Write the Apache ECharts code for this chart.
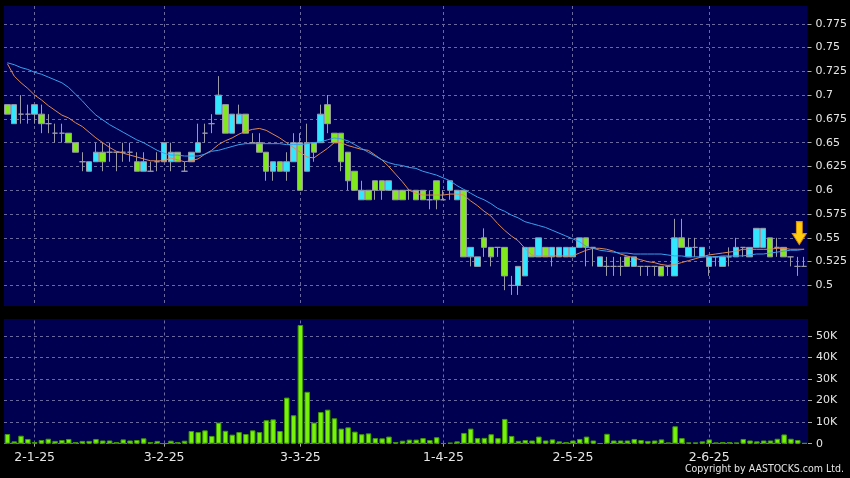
<!DOCTYPE html>
<html><head><meta charset="utf-8">
<script src="https://cdn.jsdelivr.net/npm/echarts@6/dist/echarts.min.js"></script>
<style>html,body{margin:0;padding:0;background:#000;}#c{width:850px;height:478px;}</style>
</head><body><div id="c"></div>
<script>
// trading days (d-m-yy)
const dates = [
'24-12-24','27-12-24','30-12-24','31-12-24',
'2-1-25','3-1-25','6-1-25','7-1-25','8-1-25','9-1-25','10-1-25','13-1-25','14-1-25','15-1-25','16-1-25','17-1-25','20-1-25','21-1-25','22-1-25','23-1-25','24-1-25','27-1-25','28-1-25',
'3-2-25','4-2-25','5-2-25','6-2-25','7-2-25','10-2-25','11-2-25','12-2-25','13-2-25','14-2-25','17-2-25','18-2-25','19-2-25','20-2-25','21-2-25','24-2-25','25-2-25','26-2-25','27-2-25','28-2-25',
'3-3-25','4-3-25','5-3-25','6-3-25','7-3-25','10-3-25','11-3-25','12-3-25','13-3-25','14-3-25','17-3-25','18-3-25','19-3-25','20-3-25','21-3-25','24-3-25','25-3-25','26-3-25','27-3-25','28-3-25','31-3-25',
'1-4-25','2-4-25','3-4-25','7-4-25','8-4-25','9-4-25','10-4-25','11-4-25','14-4-25','15-4-25','16-4-25','17-4-25','22-4-25','23-4-25','24-4-25','25-4-25','28-4-25','29-4-25','30-4-25',
'2-5-25','6-5-25','7-5-25','8-5-25','9-5-25','12-5-25','13-5-25','14-5-25','15-5-25','16-5-25','19-5-25','20-5-25','21-5-25','22-5-25','23-5-25','26-5-25','27-5-25','28-5-25','29-5-25','30-5-25',
'2-6-25','3-6-25','4-6-25','5-6-25','6-6-25','9-6-25','10-6-25','11-6-25','12-6-25','13-6-25','16-6-25','17-6-25','18-6-25','19-6-25','20-6-25'
];
const tickLabels = ['2-1-25','3-2-25','3-3-25','1-4-25','2-5-25','2-6-25'];

const open = [
.69,.67,.68,.68,.68,.68,.67,.66,.66,.66,
.65,.63,.62,.63,.64,.64,.64,.64,.64,.63,
.62,.62,.63,.63,.63,.64,.62,.63,.64,.66,
.67,.68,.69,.66,.67,.68,.65,.65,.64,.62,
.63,.62,.63,.65,.62,.65,.65,.69,.66,.66,
.64,.62,.59,.60,.61,.61,.60,.60,.60,.60,
.60,.60,.59,.61,.59,.60,.59,.60,.53,.52,
.55,.54,.54,.54,.50,.50,.51,.54,.53,.54,
.53,.53,.53,.53,.54,.55,.54,.52,.52,.52,
.52,.53,.52,.52,.52,.52,.52,.52,.51,.55,
.53,.54,.53,.52,.53,.52,.53,.53,.54,.53,
.54,.54,.55,.54,.54,.53,.52,.52];
const close = [
.68,.69,.68,.68,.69,.67,.67,.66,.66,.65,
.64,.63,.63,.64,.63,.64,.64,.64,.64,.62,
.63,.62,.63,.65,.64,.63,.62,.64,.65,.66,
.67,.70,.66,.68,.68,.66,.65,.64,.62,.63,
.62,.63,.65,.60,.65,.64,.68,.67,.65,.63,
.61,.60,.60,.59,.60,.60,.61,.59,.59,.60,
.59,.59,.59,.59,.59,.61,.60,.53,.54,.53,
.54,.53,.54,.51,.50,.52,.54,.53,.55,.53,
.54,.54,.54,.54,.55,.54,.54,.53,.52,.52,
.52,.52,.53,.52,.52,.52,.51,.52,.55,.54,
.54,.54,.54,.53,.53,.53,.53,.54,.54,.54,
.56,.56,.53,.54,.53,.53,.52,.52];
const low = [
.68,.67,.67,.67,.67,.66,.66,.65,.65,.65,
.64,.62,.62,.63,.62,.63,.62,.63,.63,.62,
.62,.62,.62,.63,.62,.63,.62,.63,.64,.65,
.66,.68,.66,.66,.67,.66,.65,.64,.61,.61,
.62,.61,.63,.60,.62,.63,.65,.66,.65,.62,
.60,.60,.59,.59,.59,.59,.60,.59,.59,.59,
.59,.59,.58,.58,.59,.59,.59,.53,.52,.52,
.53,.52,.53,.495,.49,.49,.51,.53,.53,.53,
.52,.53,.53,.53,.54,.52,.52,.52,.51,.51,
.51,.52,.52,.51,.51,.51,.51,.51,.51,.54,
.53,.53,.53,.51,.52,.52,.52,.53,.53,.53,
.54,.54,.53,.53,.53,.52,.51,.52];
const high = [
.69,.69,.70,.69,.69,.69,.68,.67,.67,.66,
.65,.64,.63,.65,.65,.65,.64,.65,.65,.64,
.64,.63,.64,.65,.65,.64,.63,.64,.67,.67,
.68,.72,.69,.68,.69,.68,.66,.66,.64,.63,
.63,.64,.66,.66,.67,.65,.69,.70,.66,.66,
.64,.62,.61,.60,.61,.61,.61,.60,.60,.60,
.60,.60,.60,.61,.60,.61,.60,.60,.54,.53,
.56,.54,.54,.54,.51,.52,.54,.54,.55,.54,
.54,.54,.54,.54,.55,.55,.54,.53,.53,.53,
.53,.53,.53,.52,.52,.52,.52,.52,.57,.57,
.55,.55,.54,.53,.53,.53,.54,.55,.54,.54,
.56,.56,.55,.55,.54,.53,.53,.53];

// moving averages
const maShort = [
.733,.720,.713,.707,.700,.695,.689,.684,.679,.676,
.671,.667,.661,.655,.650,.645,.641,.639,.637,.635,
.633,.631,.631,.631,.634,.632,.630,.631,.633,.638,
.642,.648,.652,.655,.659,.662,.664,.665,.663,.659,
.655,.650,.645,.640,.635,.634,.639,.644,.650,.650,
.647,.645,.643,.642,.637,.632,.625,.617,.609,.600,
.597,.595,.595,.595,.595,.596,.596,.595,.589,.584,
.578,.573,.565,.558,.552,.547,.539,.532,.531,.531,
.531,.531,.531,.531,.534,.537,.539,.539,.538,.536,
.533,.531,.529,.527,.525,.524,.522,.521,.522,.524,
.526,.528,.530,.532,.533,.534,.535,.536,.538,.538,
.538,.538,.538,.539,.539,.538,.538,.538];
const maLong = [
.734,.732,.729,.727,.724,.722,.719,.716,.713,.708,
.701,.694,.686,.679,.674,.669,.665,.661,.657,.653,
.650,.646,.642,.639,.637,.637,.636,.636,.636,.638,
.641,.642,.644,.646,.648,.649,.649,.649,.649,.649,
.649,.648,.648,.648,.649,.650,.651,.653,.655,.654,
.652,.648,.644,.640,.636,.632,.629,.627,.626,.624,
.623,.620,.618,.616,.613,.610,.605,.601,.597,.593,
.590,.586,.581,.578,.574,.571,.567,.565,.563,.561,
.558,.555,.552,.549,.546,.541,.539,.537,.536,.535,
.534,.534,.533,.533,.533,.533,.533,.532,.531,.531,
.530,.530,.530,.530,.530,.531,.531,.531,.531,.532,
.533,.533,.534,.535,.536,.537,.537,.538];

// volume in thousands of shares
const volumeK = [
4.5,1.1,3.7,2.2,0.8,1.7,2.3,1.3,1.7,2.2,
0.8,1.3,1.3,2.2,1.5,1.5,0.8,2.0,1.5,1.7,
2.5,0.8,1.3,0.1,1.4,0.8,1.4,5.9,5.4,6.2,
3.6,9.8,6.0,4.2,5.4,4.5,6.2,5.4,10.9,11.3,
5.9,21.4,13.2,55.1,24.1,9.8,14.7,15.8,11.8,7.0,
7.6,5.6,4.4,4.8,2.6,2.5,3.3,0.8,1.4,1.9,
1.9,2.6,1.7,3.0,0.2,0.5,1.1,5.0,7.0,2.6,
2.7,4.4,2.6,11.5,3.6,1.3,1.7,1.5,3.3,1.5,
2.0,1.1,0.8,1.5,2.2,3.3,1.5,0.2,4.6,1.5,
1.5,1.5,2.2,1.7,1.3,1.5,2.0,0.6,8.1,2.6,
0.6,0.6,1.1,2.0,0.6,0.8,0.8,0.6,2.2,1.5,
1.1,1.5,1.5,2.3,4.3,2.3,1.7,0.3];

const priceTicks = {min: 0.475, max: 0.8, step: 0.025};
const volTicks = {min: 0, max: 60000, step: 10000};
const arrowAt = {index: 116, price: 0.555};

const candleData = open.map((o, i) => [o, close[i], low[i], high[i]]);
const volData = volumeK.map(v => v * 1000);

const gridLine = {show: true, lineStyle: {color: '#6a6aa0', type: [3, 3], width: 1}};
const labelFont = {fontFamily: 'DejaVu Sans', color: '#e6e6e6'};
const showTick = (idx, val) => tickLabels.indexOf(val) >= 0;

const chart = echarts.init(document.getElementById('c'), null, {renderer: 'canvas'});
chart.setOption({
  animation: false,
  backgroundColor: '#000',
  grid: [
    {left: 4, width: 804, top: -5.94, height: 315.14, show: true, backgroundColor: '#000050', borderWidth: 0},
    {left: 4, width: 804, top: 314.46, height: 129.24, show: true, backgroundColor: '#000050', borderWidth: 0}
  ],
  xAxis: [
    {type: 'category', gridIndex: 0, data: dates, boundaryGap: true,
     axisLine: {show: false}, axisTick: {show: false}, axisLabel: {show: false, interval: showTick},
     splitLine: Object.assign({interval: showTick, alignWithLabel: true}, gridLine)},
    {type: 'category', gridIndex: 1, data: dates, boundaryGap: true,
     axisLine: {show: false},
     axisTick: {show: true, interval: showTick, alignWithLabel: true, length: 3, lineStyle: {color: '#aaaaaa'}},
     axisLabel: Object.assign({interval: showTick, fontSize: 12.5, margin: 8}, labelFont),
     splitLine: Object.assign({interval: showTick, alignWithLabel: true}, gridLine)}
  ],
  yAxis: [
    {type: 'value', gridIndex: 0, position: 'right', min: priceTicks.min, max: priceTicks.max, interval: priceTicks.step,
     axisLine: {show: false}, axisTick: {show: true, length: 4, lineStyle: {color: '#aaaaaa'}},
     axisLabel: Object.assign({fontSize: 11, margin: 8,
       formatter: v => (v <= priceTicks.min + 1e-9 || v >= priceTicks.max - 1e-9) ? '' : String(+v.toFixed(3))}, labelFont),
     splitLine: gridLine},
    {type: 'value', gridIndex: 1, position: 'right', min: volTicks.min, max: volTicks.max, interval: volTicks.step,
     axisLine: {show: false}, axisTick: {show: true, length: 4, lineStyle: {color: '#aaaaaa'}},
     axisLabel: Object.assign({fontSize: 11, margin: 8,
       formatter: v => v >= volTicks.max ? '' : (v === 0 ? '0' : (v / 1000) + 'K')}, labelFont),
     splitLine: gridLine}
  ],
  series: [
    {type: 'candlestick', xAxisIndex: 0, yAxisIndex: 0, data: candleData, barWidth: 6,
     itemStyle: {color: '#33e6ff', color0: '#80e81c', borderColor: '#9a9aa8', borderColor0: '#9a9aa8', borderWidth: 1},
     markPoint: {
       symbol: 'path://M4,0 L10,0 L10,12 L14,12 L7,23 L0,12 L4,12 Z',
       symbolSize: [14, 23], symbolOffset: [2, 0], label: {show: false}, silent: true,
       itemStyle: {color: '#ffcc10', borderColor: '#e09000', borderWidth: 1},
       data: [{coord: [arrowAt.index, arrowAt.price]}]
     }},
    {type: 'line', xAxisIndex: 0, yAxisIndex: 0, data: maShort, symbol: 'none', smooth: false,
     lineStyle: {color: '#e08850', width: 1}, z: 3},
    {type: 'line', xAxisIndex: 0, yAxisIndex: 0, data: maLong, symbol: 'none', smooth: false,
     lineStyle: {color: '#3aa0f0', width: 1}, z: 3},
    {type: 'bar', xAxisIndex: 1, yAxisIndex: 1, data: volData, barWidth: 5.5,
     itemStyle: {color: '#77f20a', borderColor: '#3f9a00', borderWidth: 1}}
  ],
  graphic: [
    {type: 'rect', z: 100, shape: {x: 0, y: 0, width: 850, height: 6}, style: {fill: '#000'}},
    {type: 'rect', z: 100, shape: {x: 0, y: 306, width: 850, height: 13}, style: {fill: '#000'}},
    {type: 'text', z: 100, right: 6, top: 464,
     style: {text: 'Copyright by AASTOCKS.com Ltd.', fill: '#e6e6e6', font: '10.5px "DejaVu Sans Condensed", "Liberation Sans", sans-serif'}}
  ]
});
</script>
</body></html>
